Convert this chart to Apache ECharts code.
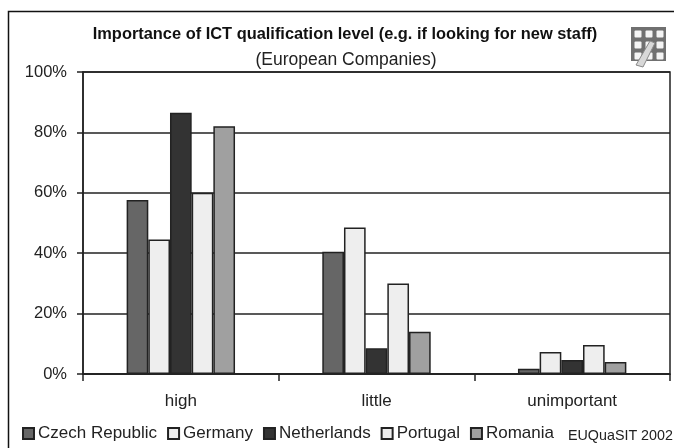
<!DOCTYPE html>
<html>
<head>
<meta charset="utf-8">
<style>
  html, body { margin: 0; padding: 0; background: #fff; }
  #main { width: 674px; height: 448px; }
</style>
<script src="https://cdn.jsdelivr.net/npm/echarts@6/dist/echarts.min.js"></script>
</head>
<body>
<div id="main"></div>
<script>
var categories = ['high', 'little', 'unimportant'];
var czech = [57.6, 40.5, 1.7];
var germany = [44.5, 48.5, 7.3];
var netherlands = [86.5, 8.5, 4.6];
var portugal = [60, 30, 9.6];
var romania = [82, 14, 4];
var seriesNames = ['Czech Republic', 'Germany', 'Netherlands', 'Portugal', 'Romania'];
var seriesColors = ['#666666', '#eeeeee', '#333333', '#eeeeee', '#a0a0a0'];
var seriesValues = [czech, germany, netherlands, portugal, romania];

var font = 'Liberation Sans';
var ink = '#222222';

// small calculator logo, top right
var logoCells = [];
[0, 1, 2].forEach(function (row) {
  [0, 1, 2].forEach(function (col) {
    logoCells.push({
      type: 'rect',
      shape: { x: 3.5 + col * 11, y: 3.5 + row * 11, width: 7, height: 7, r: 1 },
      style: { fill: '#f4f4f4' }
    });
  });
});

var chart = echarts.init(document.getElementById('main'));
chart.setOption({
  animation: false,
  backgroundColor: '#ffffff',
  textStyle: { fontFamily: font },
  title: [
    {
      text: 'Importance of ICT qualification level (e.g. if looking for new staff)',
      left: 340, top: 21, textAlign: 'center',
      textStyle: { fontSize: 16.4, fontWeight: 'bold', color: '#111', fontFamily: font }
    },
    {
      text: '(European Companies)',
      left: 341, top: 46, textAlign: 'center',
      textStyle: { fontSize: 17.5, fontWeight: 'normal', color: '#222', fontFamily: font }
    },
    {
      text: 'EUQuaSIT 2002',
      left: 563, top: 424,
      textStyle: { fontSize: 14.3, fontWeight: 'normal', color: '#222', fontFamily: font }
    }
  ],
  legend: {
    left: 22, top: 425,
    itemWidth: 11, itemHeight: 11, itemGap: 10,
    icon: 'rect',
    padding: 0,
    textStyle: { fontSize: 17, color: '#222', fontFamily: font, padding: [0, 0, 0, -1] },
    data: seriesNames
  },
  grid: {
    left: 83, right: 4, top: 72, bottom: 74,
    show: true, borderColor: ink, borderWidth: 1.5, backgroundColor: '#fff'
  },
  xAxis: {
    type: 'category',
    data: categories,
    axisLine: { lineStyle: { color: ink, width: 1.5 } },
    axisTick: { show: true, length: 7, alignWithLabel: false, lineStyle: { color: ink, width: 1.5 } },
    axisLabel: { fontSize: 17, color: '#222', margin: 19, fontFamily: font }
  },
  yAxis: {
    type: 'value',
    min: 0, max: 100, interval: 20,
    axisLine: { show: true, lineStyle: { color: ink, width: 1.5 } },
    axisTick: { show: true, length: 6, lineStyle: { color: ink, width: 1.5 } },
    axisLabel: { fontSize: 16.5, color: '#222', margin: 16, formatter: '{value}%', fontFamily: font },
    splitLine: { show: true, lineStyle: { color: ink, width: 1.5 } }
  },
  series: seriesNames.map(function (name, i) {
    return {
      name: name,
      type: 'bar',
      data: seriesValues[i],
      barGap: '0%',
      barCategoryGap: '44.6%',
      itemStyle: { color: seriesColors[i], borderColor: ink, borderWidth: 1.5 }
    };
  }),
  graphic: [
    {
      type: 'rect', silent: true, z: -1,
      shape: { x: 8.5, y: 11.5, width: 680, height: 460 },
      style: { fill: 'none', stroke: '#111', lineWidth: 1.5 }
    },
    {
      type: 'group', x: 631, y: 27, silent: true,
      children: [
        {
          type: 'rect',
          shape: { x: 0, y: 0, width: 35, height: 34 },
          style: { fill: '#707070' }
        }
      ].concat(logoCells).concat([
        {
          type: 'polygon',
          shape: { points: [[19, 14], [24, 16], [12, 40], [5, 38]] },
          style: { fill: '#d8d8d8', stroke: '#888', lineWidth: 1 }
        }
      ])
    }
  ]
});
</script>
</body>
</html>
